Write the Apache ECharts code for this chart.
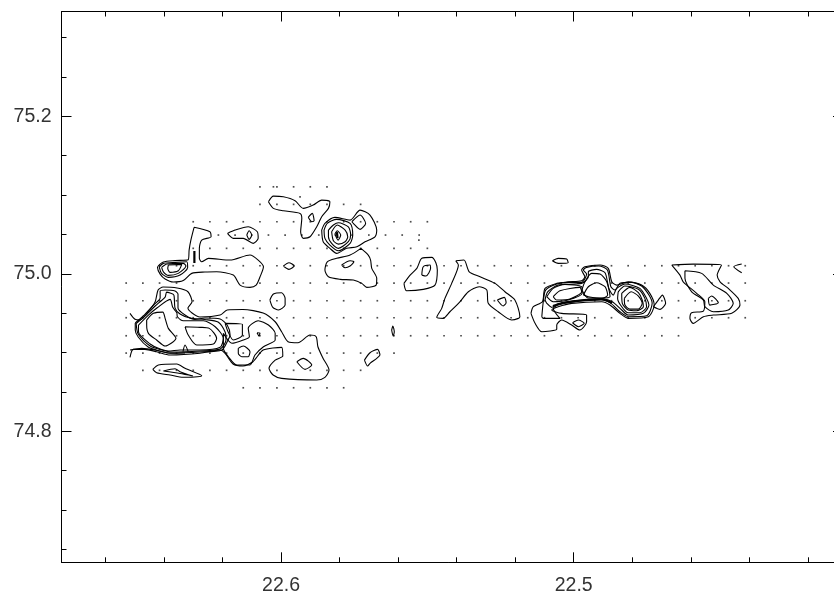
<!DOCTYPE html>
<html><head><meta charset="utf-8">
<style>html,body{margin:0;padding:0;background:#fff;overflow:hidden}#c{width:834px;height:593px}</style>
<script src="https://cdn.jsdelivr.net/npm/echarts@6/dist/echarts.min.js"></script>
</head><body><div id="c"></div>
<script>
const xMajorTicks=[22.6,22.5];
const xMinorTicks=[22.66,22.64,22.62,22.58,22.56,22.54,22.52,22.48,22.46,22.44,22.42];
const yMajorTicks=[74.8,75,75.2];
const yMinorTicks=[74.65,74.7,74.75,74.85,74.9,74.95,75.05,75.1,75.15,75.25,75.3];
const xRange=[22.408,22.675];
const yRange=[74.6333,75.3333];
const gridRa=[22.6529,22.6472,22.6415,22.6357,22.6300,22.6243,22.6186,22.6129,22.6072,22.6014,22.5957,22.5900,22.5843,22.5786,22.5728,22.5671,22.5614,22.5557,22.5500,22.5443,22.5385,22.5328,22.5271,22.5214,22.5157,22.5100,22.5042,22.4985,22.4928,22.4871,22.4814,22.4757,22.4699,22.4642,22.4585,22.4528,22.4471,22.4414];
const rowDec=[75.1105,75.0882,75.0661,75.0323,75.0102,74.9882,74.9657,74.9441,74.9212,74.8992,74.8773,74.8551];
const rowFirst=[8,8,4,4,2,0,0,0,0,0,1,7];
const rowLast=[12,14,18,18,37,37,37,37,33,16,14,13];
const halfRowDec=75.0492;
const halfRowRa=[22.6214,22.6157,22.6100,22.6043,22.5986,22.5929,22.5871,22.5814,22.5757,22.5700,22.5643,22.5586,22.5528];
const extraDots=[[22.6026,75.1105],[22.5935,75.0978],[22.5529,75.0428]];

const closedContours=[
[[22.6459,74.9412],[22.6436,74.9497],[22.6404,74.9513],[22.6396,74.9433],[22.6385,74.9306],[22.6359,74.9179],[22.6396,74.9081],[22.6425,74.9158],[22.6453,74.9243],[22.6459,74.9348]],
[[22.6328,74.9327],[22.6277,74.9319],[22.6245,74.9306],[22.6220,74.9179],[22.6231,74.9107],[22.6288,74.9094],[22.6317,74.9221]],
[[22.6487,74.9348],[22.6453,74.9475],[22.6423,74.9568],[22.6379,74.9675],[22.6370,74.9573],[22.6356,74.9504],[22.6354,74.9454],[22.6334,74.9403],[22.6265,74.9403],[22.6225,74.9327],[22.6197,74.9179],[22.6208,74.9065],[22.6277,74.9031],[22.6345,74.9031],[22.6385,74.9018],[22.6419,74.9052],[22.6447,74.9107],[22.6487,74.9263]],
[[22.6498,74.9374],[22.6471,74.9463],[22.6436,74.9602],[22.6413,74.9691],[22.6413,74.9780],[22.6396,74.9793],[22.6362,74.9780],[22.6352,74.9742],[22.6352,74.9564],[22.6328,74.9475],[22.6294,74.9418],[22.6260,74.9437],[22.6208,74.9424],[22.6184,74.9348],[22.6174,74.9221],[22.6181,74.9158],[22.6202,74.9031],[22.6277,74.9005],[22.6379,74.8992],[22.6420,74.9024],[22.6454,74.9069],[22.6488,74.9196],[22.6498,74.9285]],
[[22.6495,74.9367],[22.6461,74.9475],[22.6430,74.9590],[22.6396,74.9704],[22.6391,74.9767],[22.6379,74.9755],[22.6366,74.9729],[22.6362,74.9564],[22.6345,74.9488],[22.6311,74.9437],[22.6260,74.9418],[22.6215,74.9386],[22.6191,74.9259],[22.6188,74.9158],[22.6208,74.9043],[22.6277,74.9018],[22.6372,74.9005],[22.6413,74.9037],[22.6447,74.9081],[22.6488,74.9234]],
[[22.6191,74.9370],[22.6132,74.9357],[22.6132,74.9221],[22.6163,74.9158],[22.6181,74.9263]],
[[22.6197,74.9243],[22.6168,74.9116],[22.6129,74.9158],[22.6108,74.9200],[22.6112,74.9306],[22.6078,74.9403],[22.6043,74.9348],[22.6020,74.9243],[22.6020,74.9158],[22.6060,74.9072],[22.6089,74.8967],[22.6106,74.8840],[22.6151,74.8840],[22.6180,74.8945],[22.6197,74.9052]],
[[22.6146,74.9052],[22.6129,74.9081],[22.6106,74.9009],[22.6112,74.8945],[22.6134,74.8945],[22.6146,74.8989]],
[[22.6082,74.9250],[22.6072,74.9246],[22.6075,74.9208]],
[[22.5946,74.8882],[22.5924,74.8925],[22.5895,74.8840],[22.5918,74.8785]],
[[22.6038,74.9666],[22.6026,74.9742],[22.5998,74.9759],[22.5986,74.9687],[22.5986,74.9602],[22.6009,74.9539],[22.6028,74.9573]],
[[22.5622,74.9285],[22.5618,74.9335],[22.5613,74.9263],[22.5617,74.9208]],
[[22.5715,74.8903],[22.5696,74.8996],[22.5670,74.9039],[22.5662,74.8967],[22.5673,74.8925],[22.5696,74.8862],[22.5704,74.8827]],
[[22.6438,74.8785],[22.6419,74.8840],[22.6356,74.8853],[22.6328,74.8798],[22.6271,74.8704],[22.6334,74.8684],[22.6379,74.8713],[22.6425,74.8742]],
[[22.6402,74.8764],[22.6362,74.8793],[22.6345,74.8755],[22.6301,74.8700],[22.6345,74.8732]],
[[22.6297,75.0590],[22.6243,75.0534],[22.6239,75.0470],[22.6271,75.0428],[22.6279,75.0323],[22.6279,75.0196],[22.6271,75.0152],[22.6248,75.0196],[22.6174,75.0174],[22.6106,75.0238],[22.6078,75.0174],[22.6060,75.0089],[22.6072,74.9958],[22.6085,74.9856],[22.6106,74.9827],[22.6140,74.9856],[22.6163,74.9983],[22.6220,75.0025],[22.6260,75.0022],[22.6305,75.0005],[22.6334,74.9914],[22.6368,74.9895],[22.6396,74.9933],[22.6413,74.9996],[22.6422,75.0081],[22.6402,75.0149],[22.6362,75.0168],[22.6317,75.0178],[22.6314,75.0301],[22.6308,75.0428]],
[[22.6416,75.0089],[22.6402,75.0132],[22.6362,75.0145],[22.6322,75.0152],[22.6319,75.0081],[22.6345,74.9983],[22.6385,74.9954],[22.6408,75.0005]],
[[22.6408,75.0081],[22.6390,75.0123],[22.6334,75.0132],[22.6325,75.0098],[22.6351,75.0005],[22.6385,74.9980],[22.6402,75.0025]],
[[22.6385,75.0111],[22.6339,75.0119],[22.6351,75.0038],[22.6379,75.0018],[22.6387,75.0069]],
[[22.6183,75.0513],[22.6157,75.0555],[22.6112,75.0597],[22.6081,75.0534],[22.6078,75.0450],[22.6095,75.0386],[22.6129,75.0450],[22.6163,75.0450]],
[[22.6117,75.0492],[22.6109,75.0546],[22.6100,75.0492],[22.6109,75.0437]],
[[22.6043,75.0915],[22.6026,75.0987],[22.5992,75.0978],[22.5952,75.0928],[22.5924,75.0831],[22.5890,75.0873],[22.5861,75.0936],[22.5833,75.0915],[22.5838,75.0831],[22.5861,75.0724],[22.5878,75.0597],[22.5901,75.0470],[22.5924,75.0450],[22.5933,75.0534],[22.5929,75.0704],[22.5935,75.0767],[22.5992,75.0800],[22.6026,75.0831]],
[[22.5907,75.0717],[22.5893,75.0767],[22.5887,75.0673],[22.5895,75.0661]],
[[22.5861,75.0555],[22.5850,75.0640],[22.5816,75.0717],[22.5764,75.0682],[22.5730,75.0809],[22.5696,75.0746],[22.5673,75.0555],[22.5679,75.0470],[22.5713,75.0407],[22.5741,75.0343],[22.5776,75.0323],[22.5810,75.0259],[22.5833,75.0323],[22.5856,75.0407]],
[[22.5758,75.0661],[22.5730,75.0746],[22.5711,75.0640],[22.5730,75.0564],[22.5753,75.0640]],
[[22.5853,75.0555],[22.5842,75.0640],[22.5810,75.0691],[22.5764,75.0640],[22.5755,75.0492],[22.5764,75.0386],[22.5804,75.0292],[22.5833,75.0365],[22.5850,75.0450]],
[[22.5838,75.0555],[22.5821,75.0619],[22.5804,75.0648],[22.5770,75.0597],[22.5762,75.0492],[22.5770,75.0407],[22.5804,75.0323],[22.5827,75.0386],[22.5838,75.0470]],
[[22.5827,75.0534],[22.5808,75.0619],[22.5781,75.0555],[22.5772,75.0470],[22.5781,75.0407],[22.5804,75.0377],[22.5821,75.0419]],
[[22.5816,75.0504],[22.5808,75.0546],[22.5796,75.0492],[22.5805,75.0428]],
[[22.5727,75.0323],[22.5702,75.0238],[22.5694,75.0174],[22.5690,75.0069],[22.5673,74.9942],[22.5675,74.9856],[22.5707,74.9827],[22.5724,74.9878],[22.5753,74.9920],[22.5798,74.9929],[22.5838,74.9962],[22.5850,75.0047],[22.5842,75.0152],[22.5810,75.0196],[22.5764,75.0238]],
[[22.5793,75.0111],[22.5764,75.0165],[22.5751,75.0152],[22.5764,75.0098],[22.5781,75.0076]],
[[22.5992,75.0098],[22.5973,75.0140],[22.5955,75.0098],[22.5973,75.0056]],
[[22.5580,74.9878],[22.5559,74.9983],[22.5536,75.0069],[22.5519,75.0196],[22.5485,75.0208],[22.5471,75.0140],[22.5466,75.0047],[22.5474,74.9856],[22.5514,74.9802],[22.5571,74.9784]],
[[22.5519,74.9983],[22.5514,75.0089],[22.5491,75.0111],[22.5489,75.0069],[22.5505,74.9971]],
[[22.5403,75.0165],[22.5375,75.0174],[22.5357,75.0025],[22.5320,74.9962],[22.5269,74.9878],[22.5235,74.9771],[22.5201,74.9666],[22.5184,74.9454],[22.5189,74.9433],[22.5212,74.9412],[22.5258,74.9517],[22.5292,74.9624],[22.5297,74.9793],[22.5323,74.9835],[22.5360,74.9771],[22.5389,74.9644],[22.5423,74.9517],[22.5446,74.9433],[22.5468,74.9446],[22.5451,74.9560],[22.5440,74.9687],[22.5417,74.9878],[22.5394,75.0111]],
[[22.5261,74.9666],[22.5237,74.9700],[22.5231,74.9632],[22.5241,74.9590]],
[[22.5073,75.0165],[22.5053,75.0196],[22.5024,75.0187],[22.5019,75.0140],[22.5053,75.0132]],
[[22.5146,74.9497],[22.5138,74.9581],[22.5107,74.9644],[22.5098,74.9814],[22.5058,74.9878],[22.5019,74.9898],[22.4973,74.9911],[22.4962,74.9962],[22.4973,75.0047],[22.4962,75.0089],[22.4910,75.0111],[22.4882,75.0069],[22.4870,74.9898],[22.4853,74.9856],[22.4814,74.9898],[22.4768,74.9856],[22.4740,74.9751],[22.4725,74.9602],[22.4745,74.9454],[22.4814,74.9433],[22.4842,74.9497],[22.4876,74.9602],[22.4904,74.9644],[22.5007,74.9624],[22.5053,74.9581],[22.5075,74.9539],[22.5041,74.9497],[22.4956,74.9475],[22.4956,74.9390],[22.4979,74.9285],[22.5007,74.9348],[22.5041,74.9412],[22.5058,74.9348],[22.5058,74.9294],[22.5109,74.9263],[22.5132,74.9370]],
[[22.5109,74.9454],[22.5104,74.9644],[22.5096,74.9793],[22.5058,74.9869],[22.5019,74.9891],[22.4973,74.9891],[22.4956,74.9996],[22.4967,75.0047],[22.4956,75.0081],[22.4914,75.0098],[22.4885,75.0047],[22.4873,74.9835],[22.4859,74.9793],[22.4842,74.9878],[22.4802,74.9891],[22.4768,74.9844],[22.4743,74.9729],[22.4732,74.9624],[22.4751,74.9466],[22.4814,74.9454],[22.4842,74.9517],[22.4873,74.9624],[22.4904,74.9666],[22.4996,74.9644],[22.5053,74.9602],[22.5070,74.9560],[22.5047,74.9433],[22.5104,74.9433]],
[[22.5098,74.9666],[22.5089,74.9771],[22.5053,74.9856],[22.4973,74.9878],[22.4950,74.9962],[22.4950,75.0025],[22.4922,75.0056],[22.4893,75.0013],[22.4880,74.9814],[22.4865,74.9729],[22.4853,74.9814],[22.4825,74.9869],[22.4774,74.9814],[22.4751,74.9687],[22.4743,74.9602],[22.4762,74.9497],[22.4814,74.9475],[22.4836,74.9539],[22.4868,74.9644],[22.4899,74.9679],[22.4996,74.9657],[22.5053,74.9615],[22.5075,74.9573],[22.5092,74.9624]],
[[22.4848,74.9771],[22.4825,74.9844],[22.4779,74.9802],[22.4757,74.9687],[22.4751,74.9581],[22.4774,74.9504],[22.4814,74.9504],[22.4836,74.9581],[22.4850,74.9687]],
[[22.4836,74.9751],[22.4808,74.9827],[22.4779,74.9759],[22.4766,74.9666],[22.4762,74.9581],[22.4785,74.9530],[22.4814,74.9539],[22.4834,74.9624]],
[[22.4827,74.9687],[22.4804,74.9771],[22.4779,74.9717],[22.4766,74.9624],[22.4779,74.9551],[22.4808,74.9551],[22.4825,74.9602]],
[[22.5092,74.9708],[22.5070,74.9814],[22.5030,74.9865],[22.4973,74.9835],[22.4971,74.9751],[22.5019,74.9666],[22.5070,74.9644]],
[[22.5070,74.9708],[22.5047,74.9784],[22.4979,74.9827],[22.4973,74.9771],[22.5013,74.9679],[22.5058,74.9666]],
[[22.4967,74.9729],[22.4950,74.9835],[22.4922,74.9886],[22.4893,74.9835],[22.4884,74.9729],[22.4904,74.9687],[22.4950,74.9708]],
[[22.4972,74.9793],[22.4962,74.9895],[22.4939,75.0005],[22.4910,74.9996],[22.4887,74.9898],[22.4876,74.9708],[22.4907,74.9691],[22.4951,74.9691]],
[[22.5004,74.9377],[22.4984,74.9412],[22.4964,74.9370],[22.4984,74.9327]],
[[22.4728,74.9581],[22.4711,74.9666],[22.4697,74.9729],[22.4686,74.9624],[22.4705,74.9548]],
[[22.4665,75.0111],[22.4592,75.0123],[22.4495,75.0111],[22.4510,74.9983],[22.4500,74.9898],[22.4472,74.9814],[22.4438,74.9687],[22.4432,74.9602],[22.4460,74.9497],[22.4523,74.9475],[22.4557,74.9454],[22.4592,74.9370],[22.4603,74.9433],[22.4597,74.9504],[22.4557,74.9526],[22.4552,74.9644],[22.4580,74.9751],[22.4626,74.9898],[22.4637,74.9983]],
[[22.4620,75.0038],[22.4563,75.0005],[22.4523,74.9856],[22.4477,74.9751],[22.4455,74.9624],[22.4472,74.9539],[22.4523,74.9517],[22.4552,74.9581],[22.4557,74.9666],[22.4597,74.9771],[22.4620,74.9942]],
[[22.4540,74.9687],[22.4529,74.9717],[22.4506,74.9632],[22.4535,74.9602]]
];
const openContours=[
[[22.6516,74.9497],[22.6499,74.9421],[22.6482,74.9412],[22.6454,74.9517],[22.6430,74.9644],[22.6420,74.9793],[22.6403,74.9831],[22.6355,74.9818],[22.6318,74.9771],[22.6304,74.9644],[22.6318,74.9564],[22.6304,74.9501],[22.6277,74.9450],[22.6208,74.9475],[22.6184,74.9539],[22.6130,74.9545],[22.6061,74.9501],[22.6020,74.9390],[22.5998,74.9263],[22.5976,74.9136],[22.5942,74.9123],[22.5901,74.9221],[22.5880,74.9200],[22.5874,74.9072],[22.5857,74.8929],[22.5836,74.8776],[22.5850,74.8684],[22.5878,74.8649],[22.5998,74.8671],[22.6027,74.8713],[22.6041,74.8798],[22.6020,74.8903],[22.5994,74.8954],[22.5998,74.9065],[22.6061,74.9031],[22.6096,74.8882],[22.6130,74.8827],[22.6164,74.8853],[22.6191,74.8989],[22.6208,74.9031],[22.6277,74.8989],[22.6379,74.8967],[22.6425,74.9009],[22.6465,74.9039],[22.6505,74.9039],[22.6516,74.8938]],
[[22.6516,74.9031],[22.6476,74.9052],[22.6430,74.9031],[22.6379,74.8989],[22.6328,74.8992]],
[[22.6335,74.9009],[22.6328,74.9094],[22.6317,74.9009]],
[[22.4426,75.0123],[22.4453,75.0089],[22.4426,75.0013]]
];
const heavyStrokes=[
[[22.6296,75.0288],[22.6296,75.0136]],
[[22.5809,75.0530],[22.5807,75.0454]],
[[22.5071,74.9590],[22.5040,74.9628],[22.4996,74.9653],[22.4907,74.9679],[22.4869,74.9628]]
];

const dots=[];
rowDec.forEach((d,i)=>{for(let n=rowFirst[i];n<=rowLast[i];n++)dots.push([gridRa[n],d]);});
halfRowRa.forEach(r=>dots.push([r,halfRowDec]));
extraDots.forEach(p=>dots.push(p));

const lineSeries=(data,w,smooth)=>({type:'line',xAxisIndex:0,yAxisIndex:0,data,showSymbol:false,symbol:'none',smooth,silent:true,animation:false,lineStyle:{color:'#000',width:w}});
const series=[
 {type:'scatter',xAxisIndex:0,yAxisIndex:0,data:dots,symbol:'rect',symbolSize:1.7,silent:true,animation:false,itemStyle:{color:'#222'}},
 ...closedContours.map(c=>lineSeries(c.concat([c[0]]),1.1,0.25)),
 ...openContours.map(c=>lineSeries(c,1.1,0.25)),
 ...heavyStrokes.map(c=>lineSeries(c,2.2,0.25))
];
const rect={left:61.5,top:11.5,width:781.5,height:550.8,outerBoundsMode:'none'};
const lineOn={show:true,onZero:false,lineStyle:{color:'#000',width:1}};
const labelBase={show:true,fontFamily:'Liberation Sans',fontSize:19.5,color:'#333',formatter:v=>v.toFixed(1)};
const xAx=(grid,pos,ticks,len,labels,line)=>({type:'value',gridIndex:grid,position:pos,inverse:true,min:xRange[0],max:xRange[1],
 axisLine:line?lineOn:{show:false},splitLine:{show:false},
 axisTick:{show:true,inside:true,length:len,customValues:ticks,lineStyle:{color:'#000',width:1}},
 axisLabel:labels?Object.assign({customValues:ticks,margin:13},labelBase):{show:false}});
const yAx=(grid,pos,ticks,len,labels,line)=>({type:'value',gridIndex:grid,position:pos,min:yRange[0],max:yRange[1],
 axisLine:line?lineOn:{show:false},splitLine:{show:false},
 axisTick:{show:true,inside:true,length:len,customValues:ticks,lineStyle:{color:'#000',width:1}},
 axisLabel:labels?Object.assign({customValues:ticks,margin:10},labelBase):{show:false}});
const chart=echarts.init(document.getElementById('c'),null,{renderer:'canvas'});
chart.setOption({
 animation:false,backgroundColor:'#fff',tooltip:{show:false},
 grid:[Object.assign({},rect),Object.assign({},rect)],
 xAxis:[xAx(0,'bottom',xMajorTicks,10,true,true),xAx(0,'top',xMajorTicks,10,false,true),xAx(1,'bottom',xMinorTicks,5,false,false),xAx(1,'top',xMinorTicks,5,false,false)],
 yAxis:[yAx(0,'left',yMajorTicks,10,true,true),yAx(0,'right',yMajorTicks,10,false,true),yAx(1,'left',yMinorTicks,5,false,false),yAx(1,'right',yMinorTicks,5,false,false)],
 series
});
</script></body></html>
